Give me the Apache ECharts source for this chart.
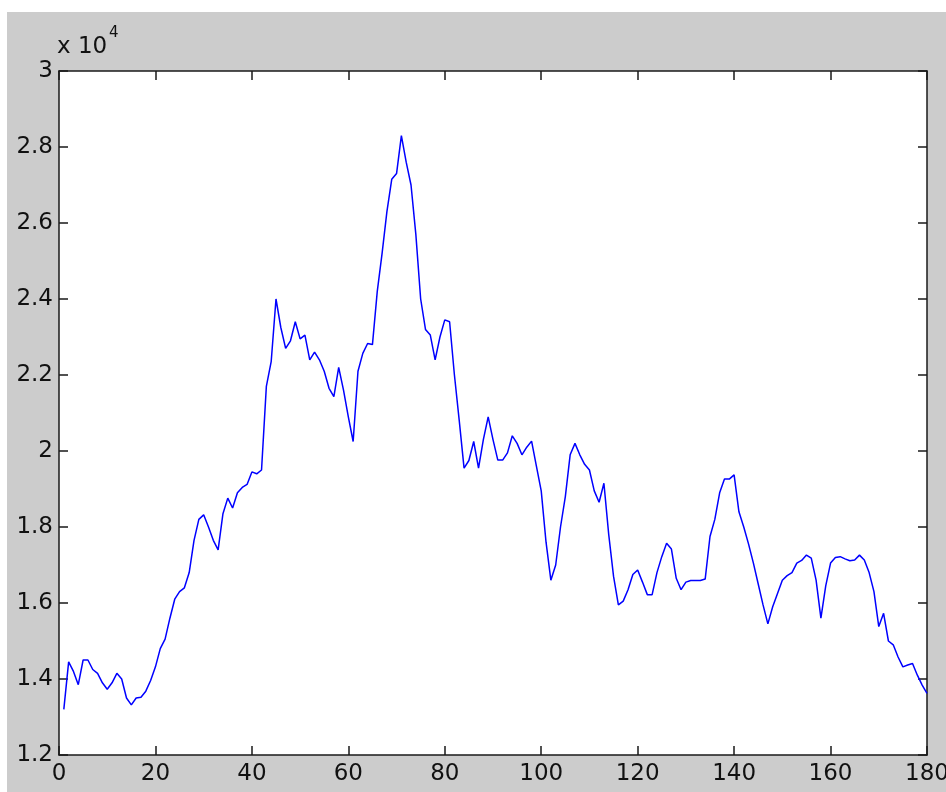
<!DOCTYPE html>
<html>
<head>
<meta charset="utf-8">
<script src="https://cdn.jsdelivr.net/npm/echarts@6/dist/echarts.min.js"></script>
<style>
html,body{margin:0;padding:0;background:#fff;}
#chart{width:946px;height:792px;}
</style>
</head>
<body>
<div id="chart"></div>
<script>
// Series values (index 1..180)
const values = [
13200,14450,14200,13850,14500,14500,14250,14150,13900,13730,
13900,14150,14000,13500,13320,13500,13520,13680,13960,14320,
14800,15050,15600,16100,16300,16400,16800,17650,18200,18320,
18000,17650,17400,18350,18760,18500,18900,19040,19120,19450,
19400,19500,21700,22350,24000,23250,22700,22900,23400,22950,
23050,22400,22600,22400,22100,21650,21430,22200,21600,20900,
20250,22100,22570,22830,22800,24200,25200,26300,27150,27300,
28300,27600,27000,25700,24000,23200,23050,22400,23000,23450,
23400,22000,20800,19550,19750,20250,19550,20300,20900,20300,
19760,19760,19950,20400,20200,19900,20100,20260,19600,18950,
17600,16600,17000,18000,18800,19900,20200,19900,19650,19500,
18950,18650,19150,17800,16700,15950,16050,16350,16750,16870,
16550,16220,16220,16800,17220,17570,17420,16650,16350,16550,
16590,16590,16590,16630,17750,18200,18900,19260,19260,19370,
18400,18000,17550,17050,16500,15950,15450,15900,16250,16600,
16720,16800,17050,17120,17260,17180,16600,15600,16450,17050,
17200,17220,17160,17110,17130,17260,17130,16800,16300,15380,
15730,15000,14900,14580,14320,14370,14410,14100,13840,13620
];
const xTicks = [0,20,40,60,80,100,120,140,160,180];
const yTicks = [12000,14000,16000,18000,20000,22000,24000,26000,28000,30000];
const scaleLabel = 'x 10';
const scaleExp = '4';

const chart = echarts.init(document.getElementById('chart'), null, {renderer:'canvas'});
const seriesData = values.map((v,i)=>[i+1, v]);
const font = '"DejaVu Sans", sans-serif';
const axisLine = {show:true, onZero:false, lineStyle:{color:'#1a1a1a', width:1.5}};
const tick = {show:true, inside:true, length:9, lineStyle:{color:'#1a1a1a', width:1.5}};
const xBase = {type:'value', min:xTicks[0], max:xTicks[xTicks.length-1], interval:20,
  axisLine, axisTick:tick, splitLine:{show:false}};
const yBase = {type:'value', min:yTicks[0], max:yTicks[yTicks.length-1], interval:2000,
  axisLine, axisTick:tick, splitLine:{show:false}};

chart.setOption({
  animation:false,
  backgroundColor:'#ffffff',
  graphic:[
    {type:'rect', z:-10, left:7, top:12, shape:{x:0,y:0,width:939,height:780}, style:{fill:'#cccccc'}},
    {type:'text', left:57, top:36, style:{text:scaleLabel, fill:'#111', font:'23px ' + font}},
    {type:'text', left:109, top:26, style:{text:scaleExp, fill:'#111', font:'15px ' + font}}
  ],
  grid:{left:59, top:71, right:19, bottom:37, containLabel:false, outerBoundsMode:'none',
    show:true, backgroundColor:'#ffffff', borderWidth:0},
  xAxis:[
    Object.assign({}, xBase, {position:'bottom',
      axisLabel:{show:true, margin:8, color:'#111', fontSize:23, fontFamily:font,
        formatter:v=>String(v)}}),
    Object.assign({}, xBase, {position:'top', axisLabel:{show:false}})
  ],
  yAxis:[
    Object.assign({}, yBase, {position:'left',
      axisLabel:{show:true, margin:6, color:'#111', fontSize:23, fontFamily:font,
        formatter:v=>String(+(v/10000).toFixed(1))}}),
    Object.assign({}, yBase, {position:'right', axisLabel:{show:false}})
  ],
  series:[{
    type:'line', xAxisIndex:0, yAxisIndex:0, data:seriesData, showSymbol:false,
    lineStyle:{color:'#0000ff', width:1.5}, clip:true
  }]
});
</script>
</body>
</html>
